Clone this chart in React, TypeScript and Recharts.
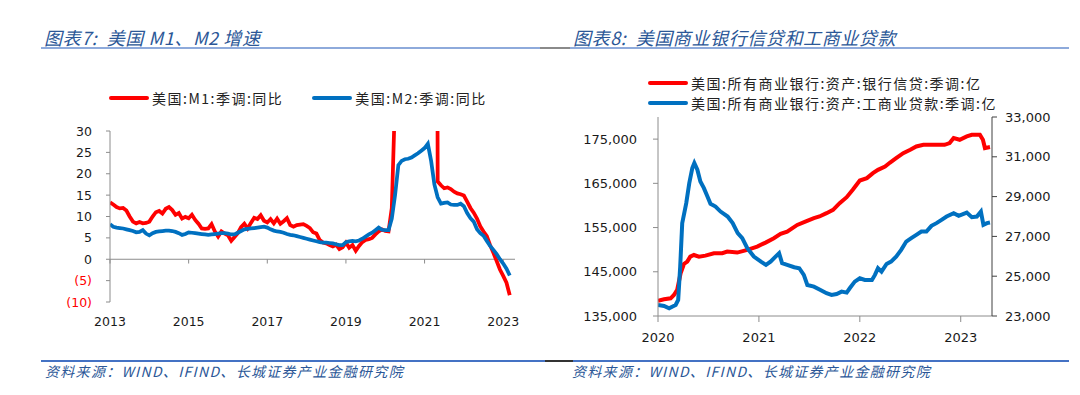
import React from "react";
import { LineChart, Line, XAxis, YAxis, ReferenceLine, Legend } from "recharts";

// ---- 图表7: monthly yoy, Jan 2013 .. Mar 2023 ----
const m1Yoy = [
  13.3, 12.8, 12.2, 11.9, 12.0, 11.4, 10.0, 8.8, 8.4, 8.7, 8.4, 8.5,
  8.8, 10.0, 11.0, 11.3, 10.7, 11.8, 12.2, 11.5, 10.4, 10.8, 9.5, 9.9,
  9.6, 10.4, 9.2, 8.3, 7.2, 7.1, 7.2, 8.2, 6.5, 5.3, 6.5, 6.0,
  5.6, 4.3, 5.2, 6.1, 7.5, 8.3, 7.2, 8.5, 9.7, 9.4, 10.3, 9.0,
  8.6, 9.4, 8.4, 9.5, 8.3, 8.9, 9.6, 8.0, 7.6, 8.0, 8.1, 8.2,
  7.8, 7.3, 6.3, 6.0, 4.5, 3.9, 3.7, 3.3, 3.0, 3.4, 2.4, 2.8,
  3.9, 2.7, 3.3, 2.0, 3.1, 4.0, 4.5, 4.7, 5.0, 5.8, 6.5, 7.0,
  6.6, 6.5, 12.0, 38, 290, 320, 335, 345, 350, 355, 360, 365,
  370, 375, 380, 360, 18.2, 17.3, 16.6, 16.8, 16.4, 15.8, 15.4, 15.2,
  14.9, 13.5, 12.0, 10.9, 9.5, 7.7, 6.5, 5.4, 3.3, 1.5, -0.4, -2.4,
  -3.9, -5.5, -8.4,
];
const m2Yoy = [
  8.2, 7.6, 7.4, 7.3, 7.2, 7.0, 6.8, 6.6, 6.3, 6.4, 6.8, 6.0,
  5.6, 6.1, 6.4, 6.5, 6.6, 6.7, 6.7, 6.6, 6.4, 6.1, 5.7, 5.9,
  6.3, 6.2, 6.1, 6.0, 5.9, 5.8, 5.7, 5.8, 5.9, 6.0, 6.1, 6.1,
  6.0, 5.8, 5.8, 6.2, 6.6, 7.0, 7.1, 7.2, 7.3, 7.4, 7.5, 7.6,
  7.4, 7.0, 6.7, 6.5, 6.4, 6.2, 5.9, 5.7, 5.6, 5.4, 5.2, 5.0,
  4.8, 4.6, 4.4, 4.2, 4.0, 3.9, 3.9, 3.8, 3.7, 3.5, 3.3, 3.3,
  4.0, 4.2, 4.3, 4.2, 4.4, 4.8, 5.3, 5.8, 6.2, 6.8, 7.4, 6.9,
  6.8, 6.8, 9.5, 15.0, 22.0, 23.0, 23.4, 23.5, 23.8, 24.3, 24.8, 25.4,
  26.0, 27.0, 23.0, 17.5, 14.5, 13.0, 13.2, 13.3, 12.8, 12.7, 12.7, 13.0,
  12.4, 10.8, 9.6, 8.8, 7.0, 6.1, 5.5, 4.3, 3.1, 2.2, 1.2, 0.0,
  -1.0, -2.2, -3.8,
];
const moneyYearTicks = [2013, 2015, 2017, 2019, 2021, 2023];
const moneyValueTicks = [-10, -5, 0, 5, 10, 15, 20, 25, 30];

// ---- 图表8: weekly levels (year fraction, value) ----
const bankCredit: [number, number][] = [
  [2020.0, 138460], [2020.06, 138780], [2020.125, 139000], [2020.158, 139750],
  [2020.19, 140900], [2020.224, 144670], [2020.257, 146770], [2020.29, 147300],
  [2020.32, 148430], [2020.356, 148800], [2020.406, 148430], [2020.47, 148650],
  [2020.554, 149190], [2020.637, 149190], [2020.686, 149560], [2020.785, 149340],
  [2020.885, 149940], [2020.983, 150690], [2021.066, 151600], [2021.148, 152590],
  [2021.215, 153560], [2021.28, 154090], [2021.38, 155600], [2021.46, 156350],
  [2021.545, 157120], [2021.6, 157500], [2021.67, 158250], [2021.735, 159000],
  [2021.8, 160510], [2021.87, 161870], [2021.93, 163530], [2022.0, 165630],
  [2022.07, 166170], [2022.13, 167300], [2022.18, 168050], [2022.25, 168800],
  [2022.3, 169710], [2022.36, 170700], [2022.43, 171830], [2022.5, 172580],
  [2022.56, 173330], [2022.63, 173710], [2022.7, 173710], [2022.76, 173710],
  [2022.84, 173710], [2022.89, 174100], [2022.93, 175230], [2022.99, 174850],
  [2023.06, 175600], [2023.11, 175980], [2023.16, 175980], [2023.19, 175980],
  [2023.22, 174850], [2023.24, 172970], [2023.29, 173200],
];
const ciLoans: [number, number][] = [
  [2020.0, 23554], [2020.06, 23503], [2020.11, 23388], [2020.14, 23468],
  [2020.175, 23554], [2020.2, 23805], [2020.22, 25481], [2020.24, 27666],
  [2020.28, 28672], [2020.31, 29679], [2020.34, 30434], [2020.36, 30686],
  [2020.39, 30348], [2020.42, 29760], [2020.455, 29427], [2020.49, 29004],
  [2020.52, 28637], [2020.57, 28501], [2020.62, 28249], [2020.69, 27998],
  [2020.74, 27666], [2020.79, 27162], [2020.835, 26911], [2020.885, 26407],
  [2020.95, 25985], [2021.02, 25733], [2021.07, 25567], [2021.115, 25733],
  [2021.165, 25985], [2021.2, 26156], [2021.23, 25652], [2021.28, 25567],
  [2021.35, 25451], [2021.4, 25401], [2021.445, 25064], [2021.48, 24560],
  [2021.545, 24475], [2021.61, 24309], [2021.67, 24143], [2021.72, 24057],
  [2021.77, 24107], [2021.82, 24223], [2021.87, 24173], [2021.9, 24394],
  [2021.95, 24726], [2022.0, 24897], [2022.05, 24812], [2022.12, 24812],
  [2022.15, 25064], [2022.18, 25401], [2022.215, 25230], [2022.265, 25617],
  [2022.31, 25733], [2022.36, 25985], [2022.41, 26322], [2022.46, 26740],
  [2022.51, 26911], [2022.56, 27077], [2022.61, 27243], [2022.66, 27243],
  [2022.71, 27530], [2022.76, 27666], [2022.81, 27832], [2022.86, 27998],
  [2022.93, 28169], [2022.98, 28033], [2023.06, 28199], [2023.11, 27968],
  [2023.16, 27998], [2023.2, 28249], [2023.225, 27580], [2023.26, 27666],
  [2023.29, 27696],
];
const loanYearTicks = [2020, 2021, 2022, 2023];
const creditTicks = [135000, 145000, 155000, 165000, 175000];
const ciTicks = [23000, 25000, 27000, 29000, 31000, 33000];

const RED = "#FF0000";
const BLUE = "#0070C0";
const AXIS = "#8c8c8c";
const TICK_FONT = "'DejaVu Sans', Verdana, sans-serif";
const CJK_FONT = "'Noto Sans CJK SC', sans-serif";
const TITLE_BLUE = "#2B5797";

const moneyData = m1Yoy.map((v, i) => ({ t: 2013 + i / 12, m1: v, m2: m2Yoy[i] }));
const creditData = bankCredit.map(([t, v]) => ({ t, v }));
const ciData = ciLoans.map(([t, v]) => ({ t, v }));

const fmt = (v: number) => v.toLocaleString("en-US");

function MoneyTick(props: any) {
  const { x, y, payload } = props;
  const v = payload.value as number;
  return (
    <text
      x={x}
      y={y}
      dy="0.36em"
      textAnchor="end"
      fill={v < 0 ? RED : "#1a1a1a"}
      fontSize={12.5}
      fontFamily={TICK_FONT}
    >
      {v < 0 ? `(${-v})` : String(v)}
    </text>
  );
}

function LegendRow({ color, label, gap = 0 }: { color: string; label: string; gap?: number }) {
  return (
    <div style={{ display: "flex", alignItems: "center", marginRight: gap, height: 20 }}>
      <span style={{ width: 40, height: 4, background: color, borderRadius: 2, display: "inline-block" }} />
      <span style={{ marginLeft: 3, letterSpacing: 1.5, whiteSpace: "nowrap" }}>{label}</span>
    </div>
  );
}

const legendText: React.CSSProperties = {
  fontFamily: CJK_FONT,
  fontSize: 14,
  color: "#222",
  lineHeight: "20px",
};

function Title({ left, text }: { left: number; text: string }) {
  return (
    <div
      style={{
        position: "absolute",
        left,
        top: 24,
        fontFamily: CJK_FONT,
        fontStyle: "italic",
        fontSize: 18,
        letterSpacing: 0.6,
        color: TITLE_BLUE,
        whiteSpace: "pre",
      }}
    >
      {text}
    </div>
  );
}

function Source({ left }: { left: number }) {
  return (
    <div
      style={{
        position: "absolute",
        left,
        top: 361,
        fontFamily: CJK_FONT,
        fontStyle: "italic",
        fontSize: 14,
        letterSpacing: 1.3,
        color: TITLE_BLUE,
        whiteSpace: "pre",
      }}
    >
      资料来源：WIND、IFIND、长城证券产业金融研究院
    </div>
  );
}

function Rule({ left, width, top, color, h }: { left: number; width: number; top: number; color: string; h: number }) {
  return <div style={{ position: "absolute", left, width, top, height: h, background: color }} />;
}

export default function App() {
  return (
    <div
      style={{
        position: "absolute",
        left: 0,
        top: 0,
        width: 1080,
        height: 395,
        background: "#fff",
        overflow: "hidden",
      }}
    >
      <Title left={44} text={"图表7:  美国 M1、M2 增速"} />
      <Title left={573} text={"图表8:  美国商业银行信贷和工商业贷款"} />
      <Rule left={41} width={499} top={47} color="#8EAADB" h={2} />
      <Rule left={540} width={30} top={47} color="#8a8a8a" h={2} />
      <Rule left={570} width={499} top={47} color="#8EAADB" h={2} />

      {/* 图表7 */}
      <div style={{ position: "absolute", left: 0, top: 0 }}>
        <LineChart width={540} height={345} margin={{ top: 131, right: 25, bottom: 13, left: 50 }}>
          <XAxis
            type="number"
            dataKey="t"
            domain={[2013, 2023.3]}
            ticks={moneyYearTicks}
            interval={0}
            allowDataOverflow
            axisLine={false}
            tickLine={false}
            tickSize={0}
            tickMargin={15}
            height={30}
            tick={{ fill: "#1a1a1a", fontSize: 12.5, fontFamily: TICK_FONT }}
            tickFormatter={(v: number) => String(v)}
          />
          <YAxis
            domain={[-10, 30]}
            ticks={moneyValueTicks}
            interval={0}
            allowDataOverflow
            width={60}
            axisLine={{ stroke: AXIS }}
            tickLine={{ stroke: AXIS }}
            tickSize={4}
            tickMargin={14}
            tick={<MoneyTick />}
          />
          <ReferenceLine y={0} stroke={AXIS} strokeWidth={1} />
          {moneyYearTicks.map((yr) => (
            <ReferenceLine
              key={yr}
              segment={[
                { x: yr, y: 0 },
                { x: yr, y: -1 },
              ]}
              stroke={AXIS}
            />
          ))}
          <Line
            data={moneyData}
            dataKey="m1"
            name="美国:M1:季调:同比"
            stroke={RED}
            strokeWidth={3.75}
            dot={false}
            activeDot={false}
            isAnimationActive={false}
          />
          <Line
            data={moneyData}
            dataKey="m2"
            name="美国:M2:季调:同比"
            stroke={BLUE}
            strokeWidth={3.75}
            dot={false}
            activeDot={false}
            isAnimationActive={false}
          />
          <Legend
            layout="horizontal"
            verticalAlign="middle"
            align="center"
            wrapperStyle={{ top: 88, left: 109, width: "auto" }}
            content={() => (
              <div style={{ ...legendText, display: "flex" }}>
                <LegendRow color={RED} label="美国:M1:季调:同比" gap={29} />
                <LegendRow color={BLUE} label="美国:M2:季调:同比" />
              </div>
            )}
          />
        </LineChart>
      </div>

      {/* 图表8 */}
      <div style={{ position: "absolute", left: 560, top: 0 }}>
        <LineChart width={520} height={355} margin={{ top: 117, right: 18, bottom: 9, left: 28 }}>
          <XAxis
            type="number"
            dataKey="t"
            domain={[2020, 2023.31]}
            ticks={loanYearTicks}
            interval={0}
            allowDataOverflow
            axisLine={{ stroke: AXIS }}
            tickLine={{ stroke: AXIS }}
            tickSize={6}
            tickMargin={11}
            height={30}
            tick={{ fill: "#1a1a1a", fontSize: 13, fontFamily: TICK_FONT }}
            tickFormatter={(v: number) => String(v)}
          />
          <YAxis
            yAxisId="l"
            domain={[135000, 180000]}
            ticks={creditTicks}
            interval={0}
            allowDataOverflow
            width={70}
            axisLine={{ stroke: AXIS }}
            tickLine={{ stroke: AXIS }}
            tickSize={5}
            tickMargin={16}
            tick={{ fill: "#1a1a1a", fontSize: 13, fontFamily: TICK_FONT }}
            tickFormatter={fmt}
          />
          <YAxis
            yAxisId="r"
            orientation="right"
            domain={[23000, 33000]}
            ticks={ciTicks}
            interval={0}
            allowDataOverflow
            width={70}
            axisLine={{ stroke: "#404040" }}
            tickLine={{ stroke: "#404040" }}
            tickSize={5}
            tickMargin={8}
            tick={{ fill: "#1a1a1a", fontSize: 13, fontFamily: TICK_FONT }}
            tickFormatter={fmt}
          />
          <Line
            yAxisId="l"
            data={creditData}
            dataKey="v"
            name="美国:所有商业银行:资产:银行信贷:季调:亿"
            stroke={RED}
            strokeWidth={4}
            dot={false}
            activeDot={false}
            isAnimationActive={false}
          />
          <Line
            yAxisId="r"
            data={ciData}
            dataKey="v"
            name="美国:所有商业银行:资产:工商业贷款:季调:亿"
            stroke={BLUE}
            strokeWidth={4}
            dot={false}
            activeDot={false}
            isAnimationActive={false}
          />
          <Legend
            layout="horizontal"
            verticalAlign="middle"
            align="center"
            wrapperStyle={{ top: 73, left: 88, width: "auto" }}
            content={() => (
              <div style={legendText}>
                <LegendRow color={RED} label="美国:所有商业银行:资产:银行信贷:季调:亿" />
                <LegendRow color={BLUE} label="美国:所有商业银行:资产:工商业贷款:季调:亿" />
              </div>
            )}
          />
        </LineChart>
      </div>

      <Rule left={41} width={504} top={360} color="#4472C4" h={1.5} />
      <Rule left={545} width={28} top={360} color="#333" h={1.5} />
      <Rule left={573} width={496} top={360} color="#4472C4" h={1.5} />
      <Source left={45} />
      <Source left={572} />
    </div>
  );
}
